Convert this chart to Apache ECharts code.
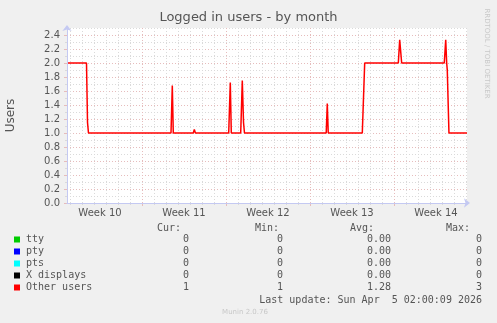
<!DOCTYPE html>
<html>
<head>
<meta charset="utf-8">
<script src="https://cdn.jsdelivr.net/npm/echarts@6/dist/echarts.min.js"></script>
<style>
html,body{margin:0;padding:0;background:#f0f0f0;}
#c{width:497px;height:323px;}
</style>
</head>
<body>
<div id="c"></div>
<script>
// ---- data (x in days since Monday of Week 10, 00:00) ----
const X_MIN = 0.75;
const X_MAX = 34.0833;
const WEEK_LABELS = ['Week 10', 'Week 11', 'Week 12', 'Week 13', 'Week 14'];
const WEEK_LABEL_POS = [3.5, 10.5, 17.5, 24.5, 31.5];
const WEEK_BOUNDS = [7, 14, 21, 28];
const Y_LABELS = [0, 0.2, 0.4, 0.6, 0.8, 1.0, 1.2, 1.4, 1.6, 1.8, 2.0, 2.2, 2.4];

const SERIES_NAMES = ['tty', 'pty', 'pts', 'X displays', 'Other users'];
const TTY = [[0.75, 0], [34.0833, 0]];
const PTY = [[0.75, 0], [34.0833, 0]];
const PTS = [[0.75, 0], [34.0833, 0]];
const X_DISPLAYS = [[0.75, 0], [34.0833, 0]];
const OTHER_USERS = [
  [0.75, 2.0], [2.375, 2.0], [2.46, 1.15], [2.54, 1.0],
  [9.417, 1.0], [9.525, 1.68], [9.608, 1.0],
  [11.27, 1.0], [11.36, 1.05], [11.45, 1.0],
  [14.225, 1.0], [14.358, 1.72], [14.442, 1.0],
  [15.225, 1.0], [15.358, 1.75], [15.46, 1.15], [15.54, 1.0],
  [22.35, 1.0], [22.44, 1.42], [22.52, 1.0],
  [25.358, 1.0], [25.558, 2.0],
  [28.36, 2.0], [28.475, 2.33], [28.64, 2.0],
  [32.19, 2.0], [32.31, 2.33], [32.39, 2.0], [32.44, 1.9], [32.58, 1.0],
  [34.0833, 1.0]
];
const CUR = [0, 0, 0, 0, 1];
const MIN = [0, 0, 0, 0, 1];
const AVG = [0, 0, 0, 0, 1.28];
const MAX = [0, 0, 0, 0, 3];
const LAST_UPDATE = 'Last update: Sun Apr  5 02:00:09 2026';
const TITLE = 'Logged in users - by month';

// ---- styles ----
const COLORS = ['#00cc00', '#0000ff', '#00ffff', '#000000', '#ff0000'];
const TXT = '#555555';
const AXIS_C = '#c4c9f2';
const MINOR_C = '#dadada';
const MAJOR_C = '#e6bcbc';

const DAY_TICKS = [];
for (let d = 1; d <= 34; d++) DAY_TICKS.push(d);

const chart = echarts.init(document.getElementById('c'), null, {renderer: 'canvas'});

const xBase = {type: 'value', min: X_MIN, max: X_MAX, position: 'bottom', offset: 0, gridIndex: 0};
const yBase = {type: 'value', min: 0, max: 2.5, position: 'left', offset: 0, gridIndex: 0};

const graphics = [];
graphics.push({type: 'text', x: 248.5, y: 18, style: {text: TITLE, font: '13px "DejaVu Sans"', fill: TXT, align: 'center', verticalAlign: 'middle'}});
graphics.push({type: 'text', x: 10.5, y: 115.5, rotation: Math.PI / 2, style: {text: 'Users', font: '12px "DejaVu Sans"', fill: TXT, align: 'center', verticalAlign: 'middle'}});
graphics.push({type: 'text', x: 487, y: 53.5, rotation: -Math.PI / 2, style: {text: 'RRDTOOL / TOBI OETIKER', font: '7px "DejaVu Sans"', fill: '#c8c8c8', align: 'center', verticalAlign: 'middle'}});
graphics.push({type: 'text', x: 245, y: 312, style: {text: 'Munin 2.0.76', font: '7px "DejaVu Sans"', fill: '#c8c8c8', align: 'center', verticalAlign: 'middle'}});

const mono = '10px "DejaVu Sans Mono"';
const hdrY = 228;
[['Cur:', 181], ['Min:', 279], ['Avg:', 374], ['Max:', 470]].forEach(function (h) {
  graphics.push({type: 'text', x: h[1], y: hdrY, style: {text: h[0], font: mono, fill: TXT, align: 'right', verticalAlign: 'middle'}});
});
SERIES_NAMES.forEach(function (name, i) {
  const y = 239.5 + i * 12;
  graphics.push({type: 'rect', shape: {x: 14, y: y - 3, width: 6, height: 6}, style: {fill: COLORS[i]}});
  graphics.push({type: 'text', x: 26, y: y, style: {text: name, font: mono, fill: TXT, align: 'left', verticalAlign: 'middle'}});
  graphics.push({type: 'text', x: 189, y: y, style: {text: String(CUR[i]), font: mono, fill: TXT, align: 'right', verticalAlign: 'middle'}});
  graphics.push({type: 'text', x: 283, y: y, style: {text: String(MIN[i]), font: mono, fill: TXT, align: 'right', verticalAlign: 'middle'}});
  graphics.push({type: 'text', x: 391, y: y, style: {text: AVG[i].toFixed(2), font: mono, fill: TXT, align: 'right', verticalAlign: 'middle'}});
  graphics.push({type: 'text', x: 482, y: y, style: {text: String(MAX[i]), font: mono, fill: TXT, align: 'right', verticalAlign: 'middle'}});
});
graphics.push({type: 'text', x: 482, y: 300, style: {text: LAST_UPDATE, font: mono, fill: TXT, align: 'right', verticalAlign: 'middle'}});

// zero-valued series lie under the x axis line (as in the rrdtool output)
const zeroData = [TTY, PTY, PTS, X_DISPLAYS];
const series = zeroData.map(function (d, i) {
  return {name: SERIES_NAMES[i], type: 'line', data: d, showSymbol: false, z: -1,
    lineStyle: {color: COLORS[i], width: 1}, itemStyle: {color: COLORS[i]}};
});
series.push({name: SERIES_NAMES[4], type: 'line', data: OTHER_USERS, showSymbol: false, z: 2,
  lineStyle: {color: COLORS[4], width: 1.5}, itemStyle: {color: COLORS[4]}});

chart.setOption({
  animation: false,
  backgroundColor: '#f0f0f0',
  grid: {left: 67, right: 30, top: 28, bottom: 120, show: true, backgroundColor: '#ffffff', borderWidth: 0, outerBoundsMode: 'none'},
  xAxis: [
    Object.assign({}, xBase, {
      axisLine: {show: false},
      axisTick: {show: true, customValues: DAY_TICKS, length: 2, lineStyle: {color: MINOR_C}},
      axisLabel: {show: false},
      splitLine: {show: true, lineStyle: {color: MINOR_C, type: [1, 2], width: 1}}
    }),
    Object.assign({}, xBase, {
      axisLine: {show: false},
      axisTick: {show: true, customValues: WEEK_BOUNDS, length: 3, lineStyle: {color: MAJOR_C}},
      axisLabel: {show: false},
      splitLine: {show: true, lineStyle: {color: MAJOR_C, type: [1, 2], width: 1}}
    }),
    Object.assign({}, xBase, {
      z: 3,
      axisLine: {show: true, lineStyle: {color: AXIS_C, width: 1}, symbol: ['none', 'arrow'], symbolSize: [7, 6], symbolOffset: [0, 3]},
      axisTick: {show: false},
      axisLabel: {show: true, customValues: WEEK_LABEL_POS, margin: 5, color: TXT, fontFamily: 'DejaVu Sans', fontSize: 10,
        formatter: function (v) { const i = WEEK_LABEL_POS.indexOf(v); return i >= 0 ? WEEK_LABELS[i] : ''; }},
      splitLine: {show: false}
    })
  ],
  yAxis: [
    Object.assign({}, yBase, {
      interval: 0.1,
      axisLine: {show: false},
      axisTick: {show: true, length: 2, lineStyle: {color: MINOR_C}},
      axisLabel: {show: false},
      splitLine: {show: true, lineStyle: {color: MINOR_C, type: [1, 2], width: 1}}
    }),
    Object.assign({}, yBase, {
      axisLine: {show: false},
      axisTick: {show: true, customValues: Y_LABELS, length: 3, lineStyle: {color: MAJOR_C}},
      axisLabel: {show: true, customValues: Y_LABELS, margin: 7, color: TXT, fontFamily: 'DejaVu Sans', fontSize: 10,
        formatter: function (v) { return Number(v).toFixed(1); }},
      splitLine: {show: true, lineStyle: {color: MAJOR_C, type: [1, 2], width: 1}}
    }),
    Object.assign({}, yBase, {
      z: 3,
      axisLine: {show: true, lineStyle: {color: AXIS_C, width: 1}, symbol: ['none', 'arrow'], symbolSize: [7, 6], symbolOffset: [0, 3]},
      axisTick: {show: false},
      axisLabel: {show: false},
      splitLine: {show: false}
    })
  ],
  series: series,
  graphic: graphics
});
</script>
</body>
</html>
